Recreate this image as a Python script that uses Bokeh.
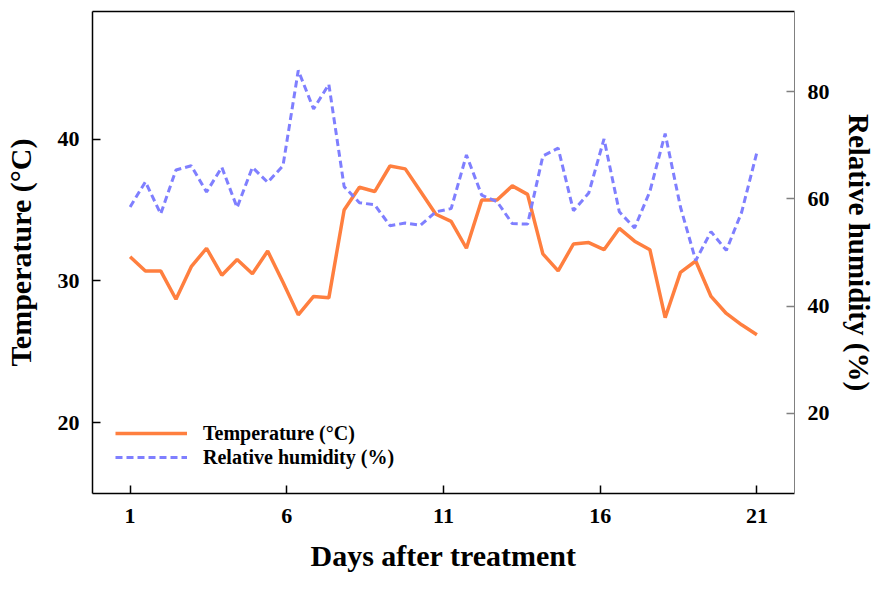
import numpy as np
from bokeh.plotting import figure
from bokeh.models import Range1d, LinearAxis, Legend, LegendItem, FixedTicker
from bokeh.embed import file_html
from bokeh.resources import INLINE

# 42 readings spread evenly from day 1 to day 21
days = list(np.linspace(1, 21, 42))
temperature = [31.7, 30.7, 30.7, 28.7, 31.0, 32.3, 30.4, 31.5, 30.5, 32.1,
               29.9, 27.6, 28.9, 28.8, 35.0, 36.6, 36.3, 38.1, 37.9, 36.3,
               34.7, 34.2, 32.3, 35.7, 35.7, 36.7, 36.1, 31.9, 30.7, 32.6,
               32.7, 32.2, 33.7, 32.8, 32.2, 27.4, 30.6, 31.4, 28.9, 27.7,
               26.9, 26.2]
humidity = [58.5, 63.2, 57.2, 65.4, 66.2, 61.3, 65.9, 58.4, 65.9, 63.1,
            66.2, 84.0, 76.8, 81.4, 62.3, 59.3, 58.9, 55.0, 55.5, 55.1,
            57.6, 58.2, 68.2, 60.7, 59.5, 55.4, 55.3, 68.0, 69.5, 57.8,
            61.1, 71.2, 57.6, 54.6, 61.4, 72.2, 58.5, 48.5, 53.9, 50.4,
            57.5, 68.7]
x_ticks = [1, 6, 11, 16, 21]
temp_ticks = [20, 30, 40]
rh_ticks = [20, 40, 60, 80]

FONT = "Liberation Serif"
ORANGE = "#FF7F3F"
BLUE = "#7F7FFF"

p = figure(frame_width=702, frame_height=482, output_backend="svg",
           toolbar_location=None,
           x_range=Range1d(-0.2, 22.2), y_range=Range1d(15, 49),
           min_border_left=92, min_border_right=88, min_border_top=11,
           min_border_bottom=94, background_fill_color="white",
           border_fill_color="white")
p.extra_y_ranges = {"rh": Range1d(5, 95)}
p.xgrid.visible = False
p.ygrid.visible = False
p.outline_line_color = None

bottom = p.below[0]
left = p.left[0]

r_t = p.line(days, temperature, line_color=ORANGE, line_width=3.5)
r_h = p.line(days, humidity, line_color=BLUE, line_width=3, line_dash="7 4",
             y_range_name="rh")

right = LinearAxis(y_range_name="rh")
p.add_layout(right, "right")

# plain top border line
top = LinearAxis(ticker=FixedTicker(ticks=[]), axis_line_color="black",
                 axis_line_width=1.5, major_tick_in=0, major_tick_out=0,
                 minor_tick_in=0, minor_tick_out=0)
p.add_layout(top, "above")


def style(ax, ticks, color="black"):
    ax.ticker = FixedTicker(ticks=ticks)
    ax.major_tick_in = 8
    ax.major_tick_out = 0
    ax.minor_tick_in = 0
    ax.minor_tick_out = 0
    ax.major_tick_line_color = color
    ax.major_tick_line_width = 1.5
    ax.axis_line_color = color
    ax.axis_line_width = 1.5
    ax.major_label_text_font = FONT
    ax.major_label_text_font_style = "bold"
    ax.major_label_text_font_size = "22px"
    ax.major_label_text_color = "black"
    ax.axis_label_text_font = FONT
    ax.axis_label_text_font_style = "bold"
    ax.axis_label_text_font_size = "30px"
    ax.axis_label_text_color = "black"


style(bottom, x_ticks)
style(left, temp_ticks)
style(right, rh_ticks, color="#808080")
right.axis_line_width = 1

bottom.axis_label = "Days after treatment"
bottom.major_label_standoff = 15
bottom.axis_label_standoff = 13
left.axis_label = "Temperature (°C)"
left.major_label_standoff = 13
left.axis_label_standoff = 18
right.major_label_standoff = 13
right.axis_label = "Relative humidity (%)"
right.axis_label_standoff = 10
right.axis_label_text_font_size = "29px"

legend = Legend(items=[LegendItem(label="Temperature (°C)", renderers=[r_t]),
                       LegendItem(label="Relative humidity (%)", renderers=[r_h])],
                location=(23, 24), glyph_width=72, glyph_height=24,
                label_height=24, label_standoff=16, spacing=0, padding=0,
                margin=0, border_line_color=None, background_fill_alpha=0,
                label_text_font=FONT, label_text_font_style="bold",
                label_text_font_size="20px", label_text_baseline="middle",
                label_text_color="black")
p.add_layout(legend)

open("out.html", "w").write(file_html(p, INLINE))
